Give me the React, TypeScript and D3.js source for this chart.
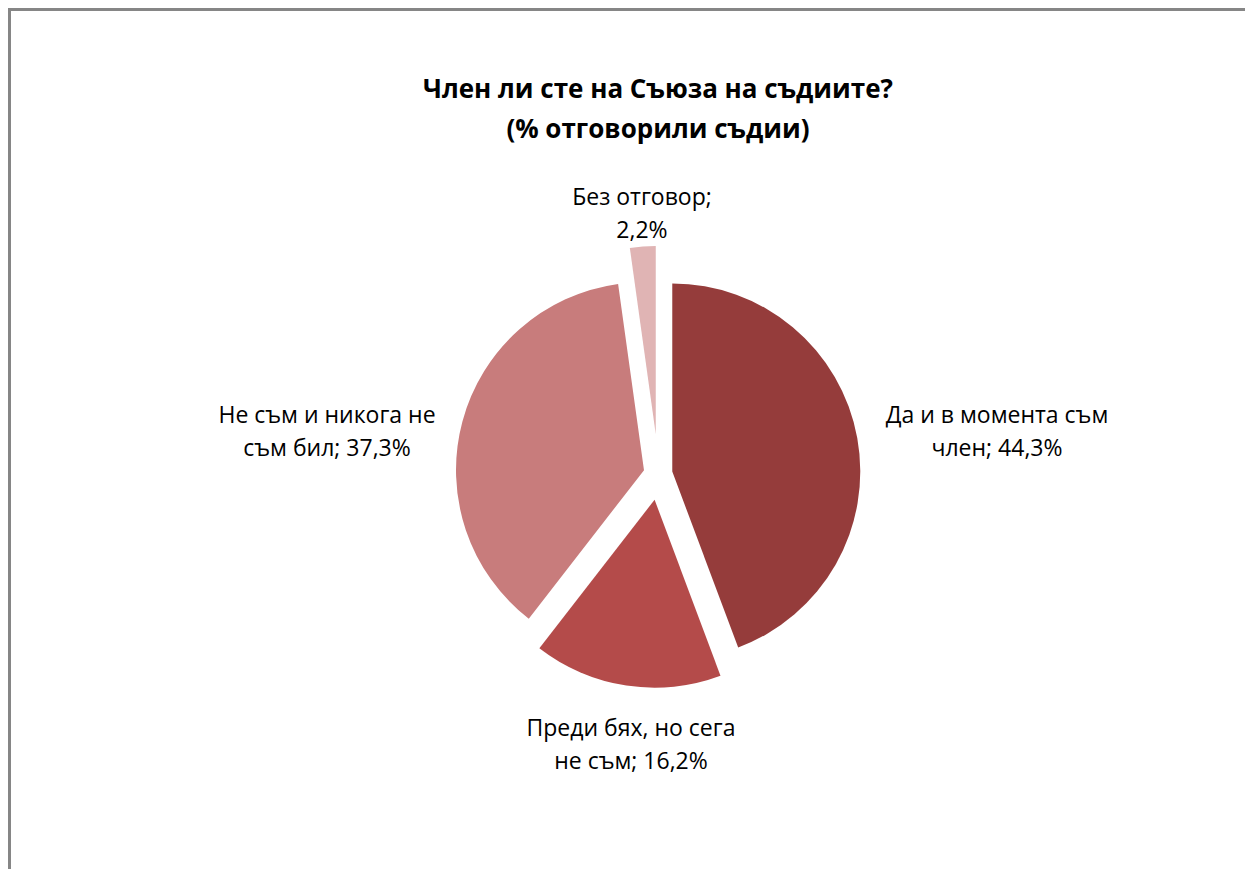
import { useEffect, useRef } from 'react'
import * as d3 from 'd3'

const categories = [
  'Да и в момента съм член',
  'Преди бях, но сега не съм',
  'Не съм и никога не съм бил',
  'Без отговор',
]
const values = [44.3, 16.2, 37.3, 2.2]
const labelLines = [
  ['Да и в момента съм', 'член; 44,3%'],
  ['Преди бях, но сега', 'не съм; 16,2%'],
  ['Не съм и никога не', 'съм бил; 37,3%'],
  ['Без отговор;', '2,2%'],
]
const colors = ['#953c3b', '#b44b4a', '#c87c7c', '#e0b4b4']
const explode = [14, 26, 15, 40]
const titleLines = ['Член ли сте на Съюза на съдиите?', '(% отговорили съдии)']

const W = 1245
const H = 861
const FONT = "'Open Sans', 'Noto Sans', sans-serif"

export default function App() {
  const svgRef = useRef<SVGSVGElement>(null)

  useEffect(() => {
    if (!svgRef.current) return
    const svg = d3.select(svgRef.current)
    svg.selectAll('*').remove()

    // chart border (right/bottom edges fall outside the window)
    svg.append('rect')
      .attr('x', 1.5)
      .attr('y', 1.5)
      .attr('width', W + 20)
      .attr('height', H + 20)
      .attr('fill', '#fff')
      .attr('stroke', '#868686')
      .attr('stroke-width', 3)

    const title = svg.append('text')
      .attr('text-anchor', 'middle')
      .style('font-family', FONT)
      .style('font-weight', 'bold')
      .style('font-size', '26px')
      .attr('fill', '#000')
    titleLines.forEach((t, i) => {
      title.append('tspan').attr('x', 650).attr('y', 90 + i * 40).text(t)
    })

    const cx = 650.5
    const cy = 466
    const r = 188

    const pie = d3.pie<number>().sort(null).value(d => d)
    const arcs = pie(values)
    const arc = d3.arc<d3.PieArcDatum<number>>().innerRadius(0).outerRadius(r)

    const g = svg.append('g').attr('transform', `translate(${cx},${cy})`)

    g.selectAll('path')
      .data(arcs)
      .join('path')
      .attr('d', arc)
      .attr('fill', (_, i) => colors[i])
      .attr('transform', (d, i) => {
        const a = (d.startAngle + d.endAngle) / 2
        return `translate(${Math.sin(a) * explode[i]},${-Math.cos(a) * explode[i]})`
      })

    // label anchor positions, relative to pie centre
    const labelPos: [number, number][] = [
      [338.5, -51],
      [-27.5, 262],
      [-331.5, -51],
      [-16.5, -269],
    ]

    labelPos.forEach(([lx, ly], i) => {
      const t = svg.append('text')
        .attr('text-anchor', 'middle')
        .style('font-family', FONT)
        .style('font-size', '23px')
        .attr('fill', '#000')
      labelLines[i].forEach((line, j) => {
        t.append('tspan')
          .attr('x', cx + lx)
          .attr('y', cy + ly + j * 33)
          .text(line)
      })
      t.append('title').text(categories[i])
    })
  }, [])

  return (
    <svg ref={svgRef} width={W} height={H} style={{ display: 'block' }} />
  )
}
